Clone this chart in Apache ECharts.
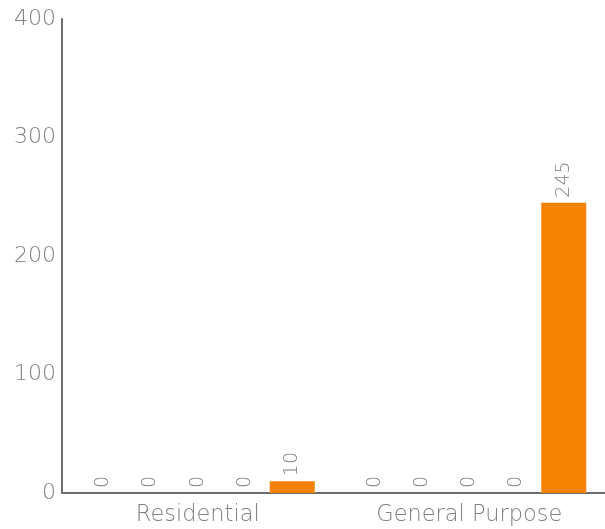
<!DOCTYPE html>
<html>
<head>
<meta charset="utf-8">
<script src="https://cdn.jsdelivr.net/npm/echarts@6/dist/echarts.min.js"></script>
<style>html,body{margin:0;padding:0;background:#fff}#c{width:605px;height:529px}</style>
</head>
<body>
<div id="c"></div>
<script>
var categories = ['Residential', 'General Purpose'];
var seriesA = [0, 0];
var seriesB = [0, 0];
var seriesC = [0, 0];
var seriesD = [0, 0];
var seriesE = [10, 245];
var yTicks = [0, 100, 200, 300, 400];

var colors = ['#4a90c8', '#7cb342', '#9e9e9e', '#f2c200', '#f58200'];
var FONT = 'DejaVu Sans';
var chart = echarts.init(document.getElementById('c'));
var lbl = {
  show: true, position: 'top', rotate: 90, align: 'left', verticalAlign: 'middle',
  distance: 5, color: '#808080', fontSize: 19, fontFamily: FONT, fontWeight: 200
};
function mk(data, i) {
  return { type: 'bar', data: data, barWidth: 45, barGap: '5%', itemStyle: { color: colors[i] }, label: lbl };
}
chart.setOption({
  animation: false,
  grid: { left: 62, right: 0, top: 19, bottom: 36, containLabel: false },
  xAxis: {
    type: 'category', data: categories,
    axisLine: { lineStyle: { color: '#6e6e6e', width: 2 } },
    axisTick: { show: false },
    axisLabel: { color: '#808080', fontSize: 22.5, fontFamily: FONT, fontWeight: 200, margin: 11 }
  },
  yAxis: {
    type: 'value', min: yTicks[0], max: yTicks[yTicks.length - 1], interval: 100,
    axisLine: { show: true, lineStyle: { color: '#6e6e6e', width: 2 } },
    axisTick: { show: false },
    splitLine: { show: false },
    axisLabel: { color: '#808080', fontSize: 22, fontFamily: FONT, fontWeight: 200, margin: 6 }
  },
  series: [mk(seriesA, 0), mk(seriesB, 1), mk(seriesC, 2), mk(seriesD, 3), mk(seriesE, 4)]
});
</script>
</body>
</html>
